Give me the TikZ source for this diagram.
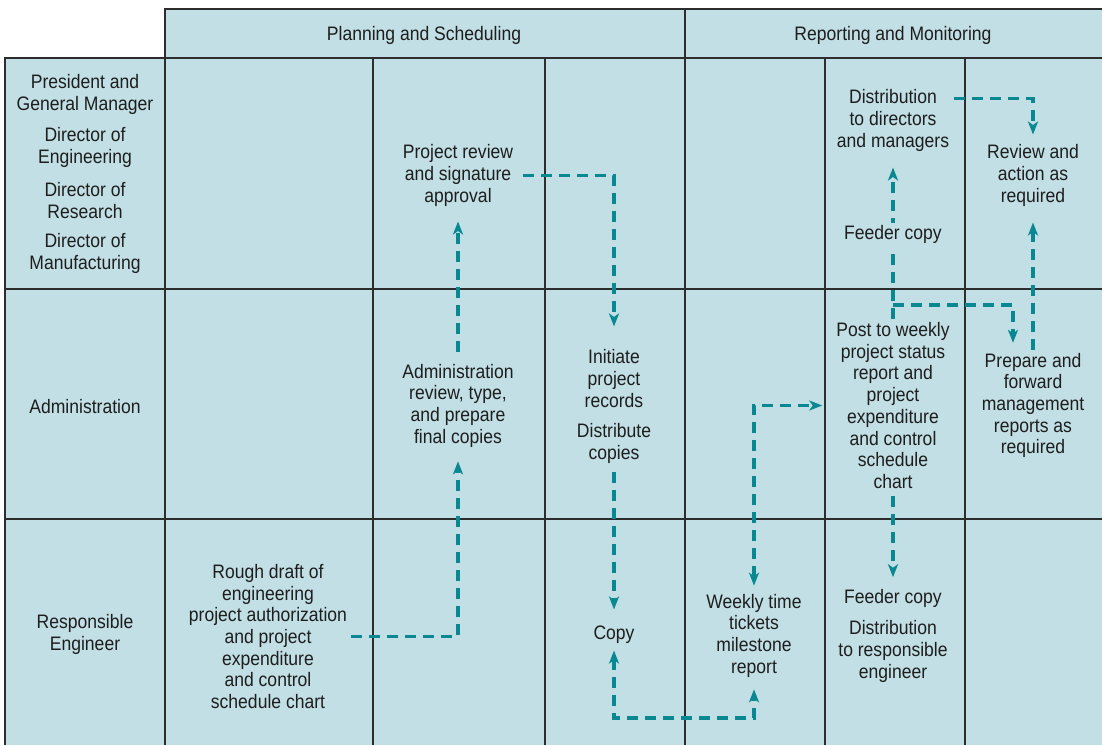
\documentclass[tikz,border=0pt]{standalone}
\usepackage{fontspec}
\setmainfont{Liberation Sans}[FakeStretch=0.9]
\usepackage{xcolor}
\usetikzlibrary{arrows.meta}
\definecolor{cellblue}{RGB}{193, 223, 228}
\definecolor{flowteal}{RGB}{10, 136, 146}
\definecolor{gridgray}{RGB}{45, 45, 45}
\definecolor{inkgray}{RGB}{30, 30, 30}

\begin{document}
\begin{tikzpicture}[
    x=1pt, y=-1pt,
    grid/.style={draw=gridgray, line width=1.5pt},
    txt/.style={align=center, inner sep=0pt, yshift=-1.5pt, text=inkgray, font=\fontsize{19.5}{21.7}\selectfont},
    flow/.style={draw=flowteal, line width=3.2pt, dash pattern=on 11pt off 7pt, ->, >={Stealth[length=13pt,width=10pt,inset=3.5pt]}}
]
\useasboundingbox (0,0) rectangle (1102,745);
% Cells and rules
\fill[cellblue] (165,9) rectangle (1102,745);
\fill[cellblue] (5,58) rectangle (165,745);
\draw[grid] (165,745) -- (165,9) -- (1102,9);
\draw[grid] (5,745) -- (5,58) -- (1102,58);
\draw[grid] (685,9) -- (685,745);
\foreach \x in {373,545,825,965} \draw[grid] (\x,58) -- (\x,745);
\foreach \y in {289,519} \draw[grid] (5,\y) -- (1102,\y);

% Headers
\node[txt] at (424,34) (hplan) {Planning and Scheduling};
\node[txt] at (893,34) (hrep)  {Reporting and Monitoring};
% Row labels
\node[txt] at (85,93)  (pres)  {President and\\General Manager};
\node[txt] at (85,146) (deng)  {Director of\\Engineering};
\node[txt] at (85,199) (dres)  {Director of\\Research};
\node[txt] at (85,252) (dman)  {Director of\\Manufacturing};
\node[txt] at (85,405) (admin) {Administration};
\node[txt] at (85,633) (resp)  {Responsible\\Engineer};

% Planning steps
\node[txt] at (268,635) (rough)    {Rough draft of\\engineering\\project authorization\\and project\\expenditure\\and control\\schedule chart};
\node[txt] at (458,404) (admrev)   {Administration\\review, type,\\and prepare\\final copies};
\node[txt] at (458,174) (projrev)  {Project review\\and signature\\approval};
\node[txt] at (614,377) (initiate) {Initiate\\project\\records};
\node[txt] at (614,442) (distcop)  {Distribute\\copies};
\node[txt] at (614,633) (copy)     {Copy};
% Reporting steps
\node[txt] at (754,634)  (weekly)   {Weekly time\\tickets\\milestone\\report};
\node[txt] at (893,404)  (post)     {Post to weekly\\project status\\report and\\project\\expenditure\\and control\\schedule\\chart};
\node[txt] at (893,597)  (feedeng)  {Feeder copy};
\node[txt] at (893,650)  (distresp) {Distribution\\to responsible\\engineer};
\node[txt] at (893,119)  (distdir)  {Distribution\\to directors\\and managers};
\node[txt] at (1033,174) (review)   {Review and\\action as\\required};
\node[txt] at (1033,404) (prepare)  {Prepare and\\forward\\management\\reports as\\required};
\coordinate (lowbend)  at (614,718);
\coordinate (postfork) at (893,305);

\draw[flow, shorten <=4pt, shorten >=14pt]  (rough.east)    -| (admrev.south);
\draw[flow, shorten <=12pt, shorten >=15pt] (admrev.north)  -- (projrev.south);
\draw[flow, shorten <=10pt, shorten >=23pt] (projrev.east)  -| (initiate.north);
\draw[flow, shorten <=8pt, shorten >=16pt]  (distcop.south) -- (copy.north);
\draw[flow, <->, shorten <=7pt, shorten >=12pt] (copy.south) -- (lowbend) -| (weekly.south);
\draw[flow, <->, shorten <=8pt, shorten >=14pt] (weekly.north) |- (post.west);
\draw[flow, shorten <=7pt, shorten >=12pt]  (post.south)    -- (feedeng.north);
\draw[flow, shorten <=3pt, shorten >=16pt]  (post.north)    -- node[txt, pos=0.52, fill=cellblue, inner sep=3pt] (feeddir) {Feeder copy} (distdir.south);
\draw[flow, shorten >=10pt] (postfork) -| ([xshift=-20pt]prepare.north);
\draw[flow, shorten <=3pt, shorten >=16pt]  (prepare.north) -- (review.south);
\draw[flow, shorten <=5pt, shorten >=10pt]  ([yshift=22pt]distdir.east) -| (review.north);
\end{tikzpicture}
\end{document}
